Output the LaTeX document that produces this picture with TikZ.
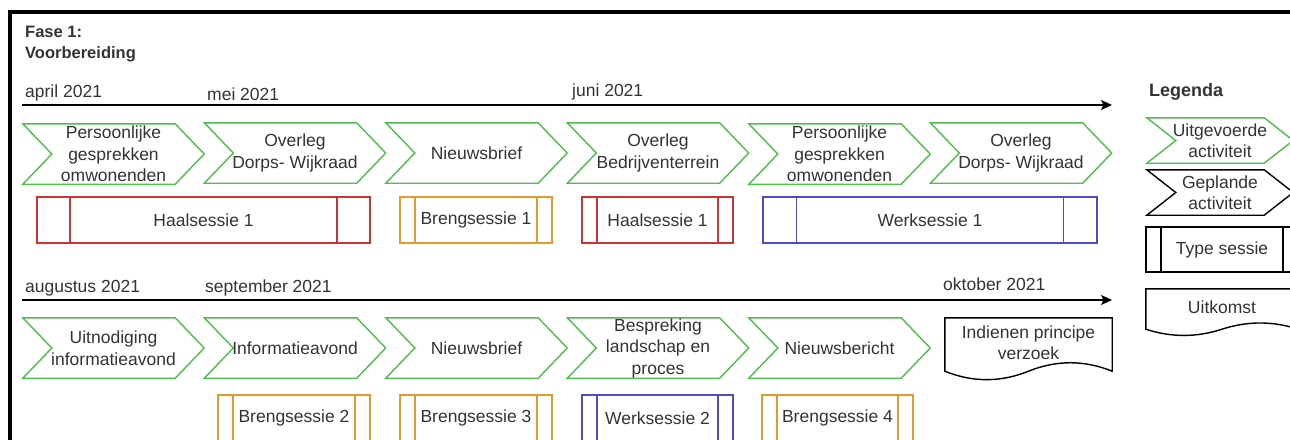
\documentclass[tikz,border=0pt]{standalone}
\usepackage{fontspec}
\setmainfont{Liberation Sans}
\usepackage{xcolor}
\definecolor{faseGroen}{HTML}{4DBF4D}
\definecolor{faseRood}{HTML}{CC3333}
\definecolor{faseOranje}{HTML}{E39A2B}
\definecolor{faseBlauw}{HTML}{4C4CC8}
\definecolor{faseTekst}{HTML}{333333}
\usetikzlibrary{arrows.meta,calc}

\newcommand{\gewoon}{\fontsize{17.5pt}{21.5pt}\selectfont}
\newcommand{\kopletter}{\fontsize{16.5pt}{21pt}\selectfont\bfseries}

% omtrek van een activiteit (pijlvorm met inkeping)
\newcommand{\pijlrand}[2]{%
    \draw[randlijn, draw=#2] let \p1=(#1.north west), \p2=(#1.south east) in
        (\x1,\y1) -- (\x2-29pt,\y1) -- (\x2,{(\y1+\y2)/2}) -- (\x2-29pt,\y2)
        -- (\x1,\y2) -- (\x1+29pt,{(\y1+\y2)/2}) -- cycle;
}

% omtrek van een uitkomst (document met golvende onderrand)
\newcommand{\golfrand}[1]{%
    \draw[randlijn] let \p1=(#1.north west), \p2=(#1.south east),
        \n1={0.38*(\y1-\y2)}, \n2={\x2-\x1} in
        (\x1,\y1) -- (\x2,\y1) -- (\x2,\y2-4pt)
        .. controls ({\x1+5*\n2/6},{\y2-4+0.6*\n1}) and ({\x1+2*\n2/3},{\y2-4+0.6*\n1}) .. ({\x1+\n2/2},\y2-4pt)
        .. controls ({\x1+\n2/3},{\y2-4-0.6*\n1}) and ({\x1+\n2/6},{\y2-4-0.6*\n1}) .. (\x1,\y2-4pt)
        -- cycle;
}

\tikzset{
    randlijn/.style={
        draw=black,
        line width=1.4pt
    },
    pijlvak/.style={
        rectangle,
        minimum width=181pt,
        minimum height=60pt,
        inner sep=0pt,
        align=center,
        text=faseTekst,
        font=\gewoon
    },
    activiteit/.style={
        pijlvak,
        append after command={\pgfextra{\pijlrand{\tikzlastnode}{faseGroen}}}
    },
    gepland/.style={
        pijlvak,
        append after command={\pgfextra{\pijlrand{\tikzlastnode}{black}}}
    },
    sessie/.style={
        draw=#1,
        rectangle,
        minimum height=46pt,
        inner sep=0pt,
        line width=1.4pt,
        text=faseTekst,
        font=\gewoon,
        path picture={
            \draw[#1, line width=1.7pt]
                ($(path picture bounding box.north west)!0.1!(path picture bounding box.north east)$) --
                ($(path picture bounding box.south west)!0.1!(path picture bounding box.south east)$)
                ($(path picture bounding box.north west)!0.9!(path picture bounding box.north east)$) --
                ($(path picture bounding box.south west)!0.9!(path picture bounding box.south east)$);
        }
    },
    uitkomst/.style={
        rectangle,
        inner sep=0pt,
        align=center,
        text=faseTekst,
        font=\gewoon
    },
    maand/.style={
        anchor=base west,
        inner sep=0pt,
        text=faseTekst,
        font=\gewoon
    },
    kop/.style={
        inner sep=0pt,
        align=left,
        text=faseTekst,
        font=\kopletter
    },
    tijdlijn/.style={
        -{Stealth[length=11pt, width=10pt, inset=2.5pt]},
        line width=1.4pt,
        color=black
    },
    kader/.style={
        line width=4pt,
        color=black
    }
}

\begin{document}
\begin{tikzpicture}[x=1pt, y=-1pt]
    \useasboundingbox (0,0) rectangle (1290,439);
    \clip (0,0) rectangle (1290,439);

    % Kader
    \draw[kader] (10,470) |- (1320,11.5);

    % Titel
    \node[kop, anchor=north west] (fase) at (25,25.5) {Fase 1:\\Voorbereiding};

    % Tijdlijn april - juni
    \coordinate (t1begin) at (22,105);
    \coordinate (t1eind) at (1112,105);
    \draw[tijdlijn] (t1begin) -- (t1eind);
    \node[maand] (april) at (25,97) {april 2021};
    \node[maand] (mei) at (207,100) {mei 2021};
    \node[maand] (juni) at (572,96) {juni 2021};

    % Activiteiten
    \node[activiteit] (gesprekken1) at (113.5,154) {Persoonlijke\\gesprekken\\omwonenden};
    \node[activiteit] (overleg1) at (295,153) {Overleg\\Dorps- Wijkraad};
    \node[activiteit] (nieuwsbrief1) at (476.5,153) {Nieuwsbrief};
    \node[activiteit] (bedrijven) at (658,153) {Overleg\\Bedrijventerrein};
    \node[activiteit] (gesprekken2) at (839.5,154) {Persoonlijke\\gesprekken\\omwonenden};
    \node[activiteit] (overleg2) at (1021,153) {Overleg\\Dorps- Wijkraad};

    % Sessies
    \node[sessie=faseRood, minimum width=333pt] (haal1) at (203.5,220) {Haalsessie 1};
    \node[sessie=faseOranje, minimum width=152pt] (breng1) at (476,220) {Brengsessie 1};
    \node[sessie=faseRood, minimum width=151pt] (haal1b) at (657.5,220) {Haalsessie 1};
    \node[sessie=faseBlauw, minimum width=334pt] (werk1) at (930,220) {Werksessie 1};

    % Tijdlijn augustus - oktober
    \coordinate (t2begin) at (22,300);
    \coordinate (t2eind) at (1112,300);
    \draw[tijdlijn] (t2begin) -- (t2eind);
    \node[maand] (augustus) at (25,292) {augustus 2021};
    \node[maand] (september) at (205,292) {september 2021};
    \node[maand] (oktober) at (943,290) {oktober 2021};

    % Activiteiten
    \node[activiteit] (uitnodiging) at (113.5,348) {Uitnodiging\\informatieavond};
    \node[activiteit] (infoavond) at (295,348) {Informatieavond};
    \node[activiteit] (nieuwsbrief2) at (476.5,348) {Nieuwsbrief};
    \node[activiteit] (bespreking) at (658,348) {Bespreking\\landschap en\\proces};
    \node[activiteit] (nieuwsbericht) at (839.5,348) {Nieuwsbericht};
    \node[uitkomst, minimum width=167pt, minimum height=49pt] (indienen) at (1028.5,342.5) {Indienen principe\\verzoek};
    \golfrand{indienen}

    % Sessies
    \node[sessie=faseOranje, minimum width=152pt] (breng2) at (294,418) {Brengsessie 2};
    \node[sessie=faseOranje, minimum width=152pt] (breng3) at (476,418) {Brengsessie 3};
    \node[sessie=faseBlauw, minimum width=151pt] (werk2) at (657.5,418) {Werksessie 2};
    \node[sessie=faseOranje, minimum width=151pt] (breng4) at (837.5,418) {Brengsessie 4};

    % Legenda
    \node[kop, anchor=base west, font=\fontsize{18pt}{21pt}\selectfont\bfseries] (legenda) at (1149,96) {Legenda};
    \node[activiteit, minimum width=146pt, minimum height=45pt] (uitgevoerd) at (1220,140.5) {Uitgevoerde\\activiteit};
    \node[gepland, minimum width=146pt, minimum height=45pt] (geplandleg) at (1220,192.5) {Geplande\\activiteit};
    \node[sessie=black, minimum width=152pt, minimum height=45pt] (typesessie) at (1222,249.5) {Type sessie};
    \node[uitkomst, minimum width=152pt, minimum height=36pt] (uitkomstleg) at (1222,307) {Uitkomst};
    \golfrand{uitkomstleg}
\end{tikzpicture}
\end{document}
